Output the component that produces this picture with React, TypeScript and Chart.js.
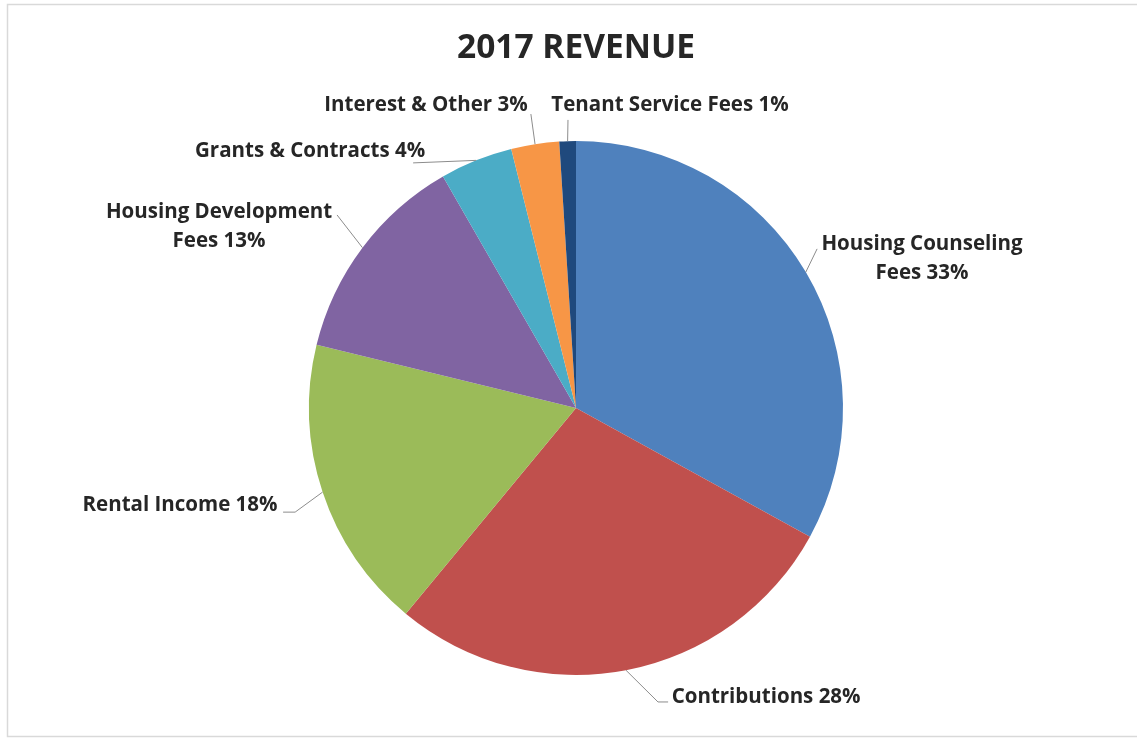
import React, { useEffect, useRef } from "react";
import { Chart, registerables } from "chart.js";

Chart.register(...registerables);

const TITLE = "2017 REVENUE";
const categories = [
  "Housing Counseling Fees",
  "Contributions",
  "Rental Income",
  "Housing Development Fees",
  "Grants & Contracts",
  "Interest & Other",
  "Tenant Service Fees",
];
const values = [33.0, 28.0, 17.8, 12.9, 4.4, 2.9, 1.0];
const colors = ["#4F81BD", "#C0504D", "#9BBB59", "#8064A2", "#4BACC6", "#F79646", "#1F497D"];

// Label layout: text-block centre and leader-line points, in pie-radius units relative to the pie centre.
type LabelLayout = { x: number; y: number; wrap: number; leader: number[][] };
const labelLayout: LabelLayout[] = [
  { x: 1.296, y: -0.56, wrap: 240, leader: [[0.903, -0.596]] },
  { x: 0.712, y: 1.082, wrap: 0, leader: [[0.307, 1.101], [0.345, 1.101]] },
  { x: -1.483, y: 0.363, wrap: 0, leader: [[-1.052, 0.39], [-1.097, 0.39]] },
  { x: -1.337, y: -0.68, wrap: 250, leader: [[-0.895, -0.723]] },
  { x: -0.996, y: -0.963, wrap: 0, leader: [[-0.61, -0.918]] },
  { x: -0.562, y: -1.135, wrap: 0, leader: [[-0.169, -1.101]] },
  { x: 0.352, y: -1.135, wrap: 0, leader: [[-0.03, -1.079]] },
];

const FONT_FAMILY = "'Open Sans', 'Liberation Sans', sans-serif";
const TEXT_COLOR = "#262626";
const LABEL_FONT_SIZE = 20.5;
const LINE_HEIGHT = 29;

function wrapText(ctx: CanvasRenderingContext2D, text: string, maxWidth: number): string[] {
  if (!maxWidth) return [text];
  const words = text.split(" ");
  const lines: string[] = [];
  let cur = "";
  for (const w of words) {
    const test = cur ? cur + " " + w : w;
    if (cur && ctx.measureText(test).width > maxWidth) {
      lines.push(cur);
      cur = w;
    } else {
      cur = test;
    }
  }
  if (cur) lines.push(cur);
  return lines;
}

const labelPlugin = {
  id: "excelLabels",
  beforeDraw(chart: any) {
    const ctx = chart.ctx as CanvasRenderingContext2D;
    ctx.save();
    ctx.strokeStyle = "#d9d9d9";
    ctx.lineWidth = 1.5;
    ctx.strokeRect(7.5, 4.5, chart.width + 10, chart.height - 6);
    ctx.restore();
  },
  afterDatasetsDraw(chart: any) {
    const ctx = chart.ctx as CanvasRenderingContext2D;
    const meta = chart.getDatasetMeta(0);
    const total = values.reduce((a, b) => a + b, 0);
    ctx.save();
    ctx.font = `bold ${LABEL_FONT_SIZE}px ${FONT_FAMILY}`;
    meta.data.forEach((arc: any, i: number) => {
      const p = arc.getProps(["x", "y", "startAngle", "endAngle", "outerRadius"], true);
      const r = p.outerRadius;
      const mid = (p.startAngle + p.endAngle) / 2;
      const layout = labelLayout[i];
      // leader line
      ctx.beginPath();
      ctx.strokeStyle = "#8c8c8c";
      ctx.lineWidth = 1;
      ctx.moveTo(p.x + Math.cos(mid) * r, p.y + Math.sin(mid) * r);
      layout.leader.forEach(([lx, ly]) => ctx.lineTo(p.x + lx * r, p.y + ly * r));
      ctx.stroke();
      // text
      const pct = Math.round((values[i] / total) * 100);
      const text = `${categories[i]} ${pct}%`;
      const lines = wrapText(ctx, text, layout.wrap);
      const cx = p.x + layout.x * r;
      const cy = p.y + layout.y * r;
      ctx.fillStyle = TEXT_COLOR;
      ctx.textAlign = "center";
      ctx.textBaseline = "middle";
      lines.forEach((ln, k) => {
        const yy = cy + (k - (lines.length - 1) / 2) * LINE_HEIGHT;
        ctx.fillText(ln, cx, yy);
      });
    });
    ctx.restore();
  },
};

export default function App() {
  const canvasRef = useRef<HTMLCanvasElement | null>(null);

  useEffect(() => {
    if (!canvasRef.current) return;
    const chart = new Chart(canvasRef.current, {
      type: "pie",
      data: {
        labels: categories,
        datasets: [
          {
            data: values,
            backgroundColor: colors,
            borderWidth: 0,
          },
        ],
      },
      options: {
        animation: false,
        responsive: false,
        devicePixelRatio: 1,
        layout: { padding: { left: 15, right: 0, top: 0, bottom: 63 } },
        plugins: {
          legend: { display: false },
          tooltip: { enabled: false },
          title: {
            display: true,
            text: TITLE,
            color: TEXT_COLOR,
            font: { family: FONT_FAMILY, size: 33.5, weight: "bold", lineHeight: 1.2 },
            padding: { top: 28, bottom: 72.8 },
          },
        },
      },
      plugins: [labelPlugin],
    });
    return () => chart.destroy();
  }, []);

  return (
    <div style={{ position: "absolute", left: 0, top: 0, width: 1137, height: 738, background: "#fff" }}>
      <canvas ref={canvasRef} width={1137} height={738} />
    </div>
  );
}
